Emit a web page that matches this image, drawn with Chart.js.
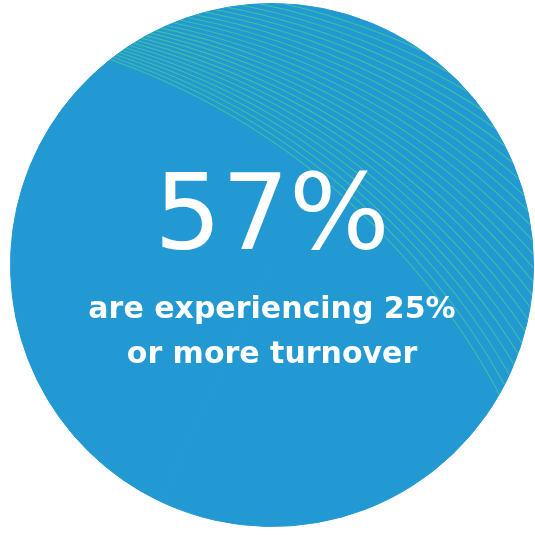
<!DOCTYPE html>
<html>
<head>
<meta charset="utf-8">
<script src="https://cdn.jsdelivr.net/npm/chart.js@4/dist/chart.umd.min.js"></script>
<style>
  html, body { margin: 0; padding: 0; background: #ffffff; }
  #wrap { position: relative; width: 535px; height: 535px; }
  #chart { position: absolute; left: 0; top: 0; }
  .txt {
    position: absolute; left: 0; width: 544px; text-align: center;
    color: #ffffff; font-family: "DejaVu Sans", sans-serif; white-space: nowrap;
  }
  #big { top: 160px; font-size: 106px; line-height: 106px; font-weight: 400; }
  #sub { top: 285px; font-size: 30px; line-height: 45px; font-weight: 700; }
</style>
</head>
<body>
<div id="wrap">
  <canvas id="chart" width="535" height="535"></canvas>
  <div class="txt" id="big">57%</div>
  <div class="txt" id="sub">are experiencing 25%<br>or more turnover</div>
</div>
<script>
// ---------- Data ----------
const labels = ['25% or more turnover', 'Less than 25% turnover'];
const shares = [57, 43];

const blue = '#2299d3';
const lineGreen = '#3fbf9f';

// ---------- Hatch plugin (curved lines in the upper right) ----------
// geometry is in units of the pie radius, relative to the pie centre
const hatch = {
  qx: -1.3885, qy: -0.9385, // point the lines fan out from
  vx: -0.1355, vy: 2.7084,  // from that point to the centre of the first line
  count: 25,
  step: 0.015
};

const hatchPlugin = {
  id: 'hatchLines',
  afterDatasetsDraw(chart) {
    const arc = chart.getDatasetMeta(0).data[0];
    if (!arc) return;
    const { x, y, outerRadius: r } = arc.getProps(['x', 'y', 'outerRadius'], true);
    const ctx = chart.ctx;
    const R = Math.hypot(hatch.vx, hatch.vy) * r;
    ctx.save();
    ctx.beginPath();
    ctx.arc(x, y, r, 0, Math.PI * 2);
    ctx.clip();
    ctx.strokeStyle = lineGreen;
    ctx.lineWidth = 1.1;
    for (let k = 0; k < hatch.count; k++) {
      const t = k * hatch.step;
      const c = Math.cos(t), s = Math.sin(t);
      const cx = x + (hatch.qx + hatch.vx * c + hatch.vy * s) * r;
      const cy = y + (hatch.qy - hatch.vx * s + hatch.vy * c) * r;
      ctx.beginPath();
      ctx.arc(cx, cy, R, 0, Math.PI * 2);
      ctx.stroke();
    }
    ctx.restore();
  }
};

new Chart(document.getElementById('chart'), {
  type: 'pie',
  data: {
    labels,
    datasets: [{
      data: shares,
      backgroundColor: [blue, blue],
      borderColor: blue,
      borderWidth: 1
    }]
  },
  options: {
    responsive: false,
    animation: false,
    layout: { padding: { left: 10, right: 1, top: 3, bottom: 8 } },
    plugins: {
      legend: { display: false },
      tooltip: { enabled: false }
    }
  },
  plugins: [hatchPlugin]
});
</script>
</body>
</html>
